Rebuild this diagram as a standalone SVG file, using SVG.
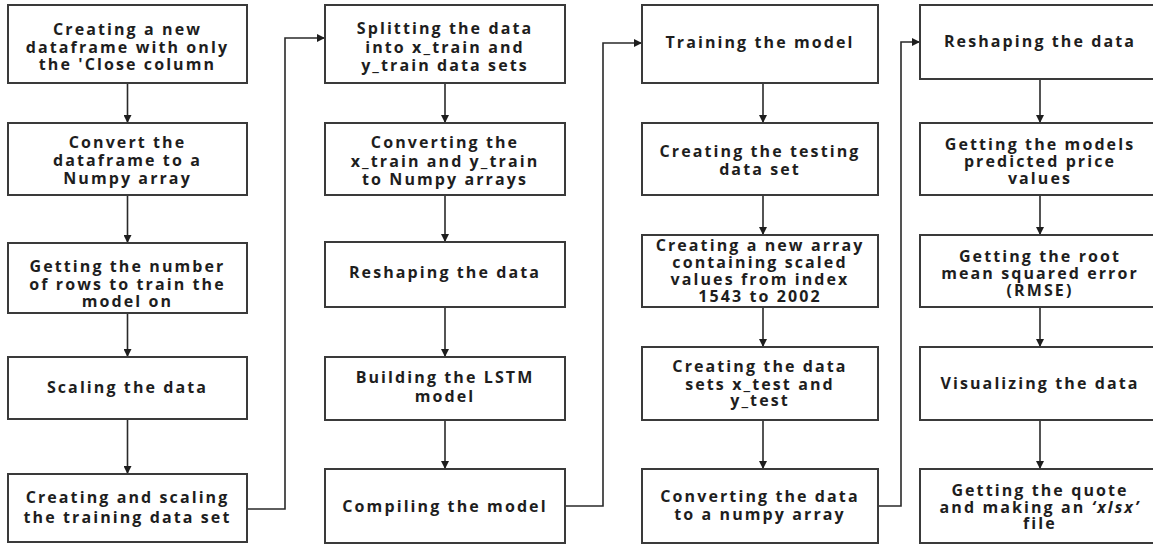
<svg xmlns="http://www.w3.org/2000/svg" width="1153" height="545" viewBox="0 0 1153 545">
<style>
.box{fill:#fff;stroke:#3a3a3a;stroke-width:2}
.t{font-family:"Open Sans","Liberation Sans",sans-serif;font-weight:bold;font-size:16px;fill:#1e1e1e;text-anchor:middle;letter-spacing:2.1px}
.ln{fill:none;stroke:#2a2a2a;stroke-width:1.6}
</style>
<defs>
<marker id="ah" viewBox="0 0 10 10" refX="10" refY="5" markerWidth="5" markerHeight="5" orient="auto" markerUnits="strokeWidth">
<path d="M0,0 L10,5 L0,10 z" fill="#1e1e1e"/>
</marker>
</defs>
<rect width="1153" height="545" fill="#fff"/>
<g id="connectors">
<line class="ln" x1="127.5" y1="83" x2="127.5" y2="123" marker-end="url(#ah)"/>
<line class="ln" x1="127.5" y1="195" x2="127.5" y2="243" marker-end="url(#ah)"/>
<line class="ln" x1="127.5" y1="313" x2="127.5" y2="357" marker-end="url(#ah)"/>
<line class="ln" x1="127.5" y1="419" x2="127.5" y2="474" marker-end="url(#ah)"/>
<polyline class="ln" points="247,509 285,509 285,38 325,38" marker-end="url(#ah)"/>
<line class="ln" x1="445" y1="83" x2="445" y2="123" marker-end="url(#ah)"/>
<line class="ln" x1="445" y1="195" x2="445" y2="242" marker-end="url(#ah)"/>
<line class="ln" x1="445" y1="307" x2="445" y2="357" marker-end="url(#ah)"/>
<line class="ln" x1="445" y1="420" x2="445" y2="469" marker-end="url(#ah)"/>
<polyline class="ln" points="565,506 603,506 603,43 642,43" marker-end="url(#ah)"/>
<line class="ln" x1="763" y1="83" x2="763" y2="123" marker-end="url(#ah)"/>
<line class="ln" x1="763" y1="195" x2="763" y2="235" marker-end="url(#ah)"/>
<line class="ln" x1="763" y1="307" x2="763" y2="347" marker-end="url(#ah)"/>
<line class="ln" x1="763" y1="420" x2="763" y2="469" marker-end="url(#ah)"/>
<polyline class="ln" points="878,506 901,506 901,42 920,42" marker-end="url(#ah)"/>
<line class="ln" x1="1040" y1="79" x2="1040" y2="123" marker-end="url(#ah)"/>
<line class="ln" x1="1040" y1="195" x2="1040" y2="235" marker-end="url(#ah)"/>
<line class="ln" x1="1040" y1="307" x2="1040" y2="347" marker-end="url(#ah)"/>
<line class="ln" x1="1040" y1="420" x2="1040" y2="469" marker-end="url(#ah)"/>
</g>
<g id="n1"><rect class="box" x="8" y="5" width="239" height="78"/><text class="t" x="127.5" y="35">Creating a new</text><text class="t" x="127.5" y="52.5">dataframe with only</text><text class="t" x="127.5" y="70">the 'Close column</text></g>
<g id="n2"><rect class="box" x="8" y="123" width="239" height="72"/><text class="t" x="127.5" y="148">Convert the</text><text class="t" x="127.5" y="166">dataframe to a</text><text class="t" x="127.5" y="184">Numpy array</text></g>
<g id="n3"><rect class="box" x="8" y="243" width="239" height="70"/><text class="t" x="127.5" y="272">Getting the number</text><text class="t" x="127.5" y="289.5">of rows to train the</text><text class="t" x="127.5" y="307">model on</text></g>
<g id="n4"><rect class="box" x="8" y="357" width="239" height="62"/><text class="t" x="127.5" y="393">Scaling the data</text></g>
<g id="n5"><rect class="box" x="8" y="474" width="239" height="68"/><text class="t" x="127.5" y="503">Creating and scaling</text><text class="t" x="127.5" y="523">the training data set</text></g>
<g id="n6"><rect class="box" x="325" y="5" width="240" height="78"/><text class="t" x="445" y="34">Splitting the data</text><text class="t" x="445" y="52.5">into x_train and</text><text class="t" x="445" y="71">y_train data sets</text></g>
<g id="n7"><rect class="box" x="325" y="123" width="240" height="72"/><text class="t" x="445" y="148">Converting the</text><text class="t" x="445" y="166.5">x_train and y_train</text><text class="t" x="445" y="185">to Numpy arrays</text></g>
<g id="n8"><rect class="box" x="325" y="242" width="240" height="65"/><text class="t" x="445" y="278">Reshaping the data</text></g>
<g id="n9"><rect class="box" x="325" y="357" width="240" height="63"/><text class="t" x="445" y="383">Building the LSTM</text><text class="t" x="445" y="402">model</text></g>
<g id="n10"><rect class="box" x="325" y="469" width="240" height="74"/><text class="t" x="445" y="512">Compiling the model</text></g>
<g id="n11"><rect class="box" x="642" y="5" width="236" height="78"/><text class="t" x="760" y="48">Training the model</text></g>
<g id="n12"><rect class="box" x="642" y="123" width="236" height="72"/><text class="t" x="760" y="157">Creating the testing</text><text class="t" x="760" y="175">data set</text></g>
<g id="n13"><rect class="box" x="642" y="235" width="236" height="72"/><text class="t" x="760" y="251">Creating a new array</text><text class="t" x="760" y="268">containing scaled</text><text class="t" x="760" y="285">values from index</text><text class="t" x="760" y="302">1543 to 2002</text></g>
<g id="n14"><rect class="box" x="642" y="347" width="236" height="73"/><text class="t" x="760" y="372">Creating the data</text><text class="t" x="760" y="389.5">sets x_test and</text><text class="t" x="760" y="406">y_test</text></g>
<g id="n15"><rect class="box" x="642" y="469" width="236" height="74"/><text class="t" x="760" y="502">Converting the data</text><text class="t" x="760" y="520">to a numpy array</text></g>
<g id="n16"><rect class="box" x="920" y="5" width="240" height="74"/><text class="t" x="1040" y="47">Reshaping the data</text></g>
<g id="n17"><rect class="box" x="920" y="123" width="240" height="72"/><text class="t" x="1040" y="150">Getting the models</text><text class="t" x="1040" y="167">predicted price</text><text class="t" x="1040" y="184">values</text></g>
<g id="n18"><rect class="box" x="920" y="235" width="240" height="72"/><text class="t" x="1040" y="262">Getting the root</text><text class="t" x="1040" y="279">mean squared error</text><text class="t" x="1040" y="296">(RMSE)</text></g>
<g id="n19"><rect class="box" x="920" y="347" width="240" height="73"/><text class="t" x="1040" y="389">Visualizing the data</text></g>
<g id="n20"><rect class="box" x="920" y="469" width="240" height="74"/><text class="t" x="1040" y="496">Getting the quote</text><text class="t" x="1040" y="513">and making an <tspan font-style="italic">‘xlsx’</tspan></text><text class="t" x="1040" y="529">file</text></g>
</svg>
